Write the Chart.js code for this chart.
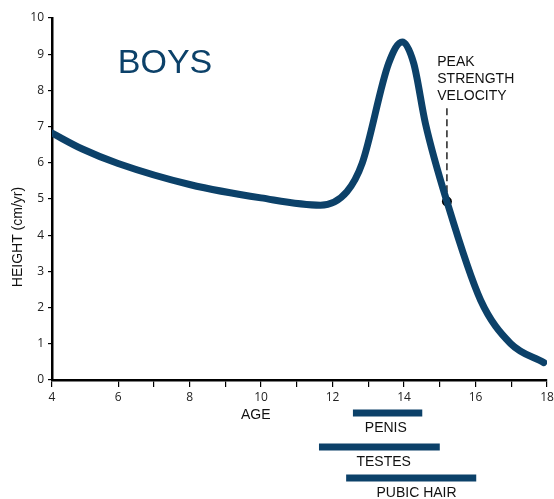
<!DOCTYPE html>
<html>
<head>
<meta charset="utf-8">
<script src="https://cdn.jsdelivr.net/npm/chart.js@4"></script>
<style>
  body { margin: 0; background: #fff; }
  #wrap { width: 554px; height: 499px; }
</style>
</head>
<body>
<div id="wrap"><canvas id="myChart" width="554" height="499"></canvas></div>
<script>
// growth velocity curve
const ages = [4.15, 5, 6, 8, 10, 11.66, 12.4, 12.83, 13.57, 13.95, 14.27, 14.6, 15.2, 16.14, 16.98, 17.91];
const velocity = [6.82, 6.38, 5.98, 5.4, 5.03, 4.83, 5.2, 5.99, 8.75, 9.34, 8.75, 7.08, 4.93, 2.21, 1.01, 0.48];

// peak strength velocity marker
const peakAge = 15.2;
const peakValue = 4.93;
const peakLineTop = 7.51;
const peakLabel = ['PEAK', 'STRENGTH', 'VELOCITY'];

// maturation stages (age ranges)
const stages = ['PENIS', 'TESTES', 'PUBIC HAIR'];
const stageStart = [12.57, 11.62, 12.38];
const stageEnd = [14.51, 15.0, 16.02];

const xTicks = [4, 6, 8, 10, 12, 14, 16, 18];

const navy = '#0c4169';
const stageRows = [-0.91, -1.85, -2.71];   // rows below the axis, in y units
const stageLabelShift = [-0.05, 0.12, 0.15];

const stageSets = stages.map((s, i) => ({
  label: s,
  data: [{x: stageStart[i], y: stageRows[i]}, {x: stageEnd[i], y: stageRows[i]}],
  showLine: true,
  borderColor: navy,
  borderWidth: 7,
  borderCapStyle: 'butt',
  pointRadius: 0,
  clip: false
}));

const textPlugin = {
  id: 'texts',
  afterDraw(chart) {
    const c = chart.ctx;
    const xs = chart.scales.x, ys = chart.scales.y;
    c.save();
    // BOYS
    c.fillStyle = navy;
    c.font = '34px "Liberation Sans", Arial, sans-serif';
    c.textAlign = 'left';
    c.textBaseline = 'alphabetic';
    c.fillText('BOYS', xs.getPixelForValue(5.99), ys.getPixelForValue(8.48));
    // peak label
    c.fillStyle = '#111';
    c.font = '14px "Liberation Sans", Arial, sans-serif';
    c.textBaseline = 'middle';
    const lx = xs.getPixelForValue(14.93);
    peakLabel.forEach((t, i) => c.fillText(t, lx, 62 + i * 17));
    // stage labels
    c.textAlign = 'center';
    stages.forEach((s, i) => {
      const mid = (stageStart[i] + stageEnd[i]) / 2 + stageLabelShift[i];
      c.fillText(s, xs.getPixelForValue(mid), ys.getPixelForValue(stageRows[i]) + 15);
    });
    // axis titles
    c.fillText('AGE', xs.getPixelForValue(9.85), 415);
    c.translate(18, 237);
    c.rotate(-Math.PI / 2);
    c.fillText('HEIGHT (cm/yr)', 0, 0);
    c.restore();
  }
};

new Chart(document.getElementById('myChart'), {
  type: 'scatter',
  data: {
    datasets: [
      {
        label: 'velocity',
        data: ages.map((a, i) => ({x: a, y: velocity[i]})),
        showLine: true,
        borderColor: navy,
        borderWidth: 7,
        borderCapStyle: 'round',
        borderJoinStyle: 'round',
        cubicInterpolationMode: 'monotone',
        pointRadius: 0
      },
      {
        label: 'marker',
        data: [{x: peakAge, y: peakLineTop}, {x: peakAge, y: peakValue + 0.1}],
        showLine: true,
        borderColor: '#000',
        borderWidth: 1.3,
        borderDash: [7, 4],
        pointRadius: 0
      },
      {
        label: 'peak',
        data: [{x: peakAge, y: peakValue}],
        pointRadius: 5,
        pointBackgroundColor: '#000',
        pointBorderWidth: 0
      },
      ...stageSets
    ]
  },
  options: {
    responsive: false,
    animation: false,
    layout: { padding: { top: 18, right: 0, left: 0, bottom: 0 } },
    plugins: {
      legend: { display: false },
      tooltip: { enabled: false }
    },
    scales: {
      x: {
        type: 'linear',
        min: 4.15,
        max: 18,
        afterFit: s => { s.height = 119; s.paddingRight = 7; },
        border: { color: '#000', width: 2.5 },
        grid: { drawOnChartArea: false, tickLength: 7, color: '#000', lineWidth: 1.2 },
        ticks: {
          stepSize: 1,
          autoSkip: false,
          maxRotation: 0,
          padding: 3,
          color: '#222',
          font: { family: '"Open Sans", sans-serif', size: 12 },
          callback: v => (v < 4.5 ? '4' : (xTicks.includes(v) ? String(v) : ''))
        }
      },
      y: {
        min: 0,
        max: 10,
        afterFit: s => { s.width = 52; },
        border: { color: '#000', width: 2.5 },
        grid: { drawOnChartArea: false, tickLength: 4, color: '#000', lineWidth: 1.2 },
        ticks: {
          stepSize: 1,
          padding: 4,
          color: '#222',
          font: { family: '"Open Sans", sans-serif', size: 12 }
        }
      }
    }
  },
  plugins: [textPlugin]
});
</script>
</body>
</html>
